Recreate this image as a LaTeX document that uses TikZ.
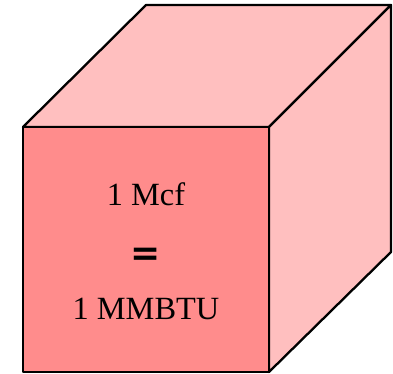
\documentclass[tikz,border=0pt]{standalone}
\usepackage{fontspec}
\setmainfont{Liberation Serif}
\setsansfont{DejaVu Sans}
\usepackage{tikz}

\definecolor{frontred}{RGB}{255,140,140}
\definecolor{sidered}{RGB}{255,191,191}

\begin{document}
\begin{tikzpicture}[x=0.5pt, y=-0.5pt, every node/.style={font=\fontsize{16.2}{18}\selectfont},
	face/.style={draw=black, line width=1.15pt, line join=round}]
	\useasboundingbox (0,0) rectangle (393,374);
	% corners of the cube
	\coordinate (ftl) at (23,127);
	\coordinate (ftr) at (269,127);
	\coordinate (fbr) at (269,372);
	\coordinate (fbl) at (23,372);
	\coordinate (btl) at (146,5);
	\coordinate (btr) at (391,5);
	\coordinate (bbr) at (391,252);
	% faces
	\filldraw[face, fill=sidered] (ftl) -- (btl) -- (btr) -- (ftr) -- cycle;
	\filldraw[face, fill=sidered] (ftr) -- (btr) -- (bbr) -- (fbr) -- cycle;
	\filldraw[face, fill=frontred] (ftl) -- (ftr) -- (fbr) -- (fbl) -- cycle;
	% labels
	\node (mcf) at (146,194) {1 Mcf};
	\node[font=\fontsize{18}{20}\selectfont\bfseries\sffamily] (eq) at (146,257) {=};
	\node (mmbtu) at (146,309) {1 MMBTU};
\end{tikzpicture}
\end{document}
